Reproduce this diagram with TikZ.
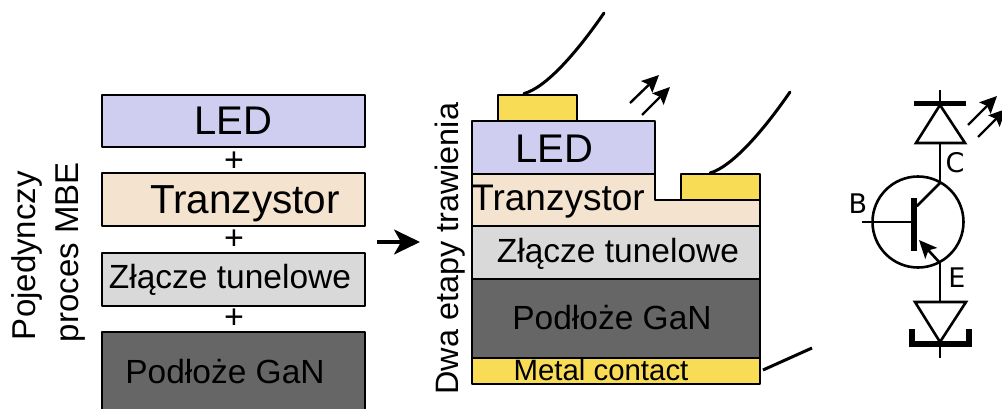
\documentclass[tikz,border=0pt]{standalone}
\usepackage{fontspec}
\setmainfont{Liberation Sans}
\newfontfamily\circfont{DejaVu Sans}
\usetikzlibrary{arrows.meta}
\definecolor{ledc}{HTML}{CFCDF0}
\definecolor{tranc}{HTML}{F3E3CF}
\definecolor{tunc}{HTML}{D9D9D9}
\definecolor{ganc}{HTML}{666666}
\definecolor{goldc}{HTML}{F9DC56}
\tikzset{
  layer/.style={draw=black,line width=2.9pt,line join=round,inner sep=0pt,outer sep=0pt,anchor=north west},
  txt/.style={inner sep=0pt,outer sep=0pt,anchor=base,text=black},
  vtxt/.style={inner sep=0pt,outer sep=0pt,anchor=base west,rotate=90,text=black,font=\fontsize{33}{35}\selectfont},
  circ/.style={inner sep=0pt,outer sep=0pt,anchor=base,text=black,font=\circfont\fontsize{27}{29}\selectfont},
  wire/.style={draw=black,line width=3pt,line cap=round},
  thin wire/.style={draw=black,line width=2.6pt},
  light/.style={draw=black,line width=2.4pt,-{Stealth[length=17pt,width=16pt,inset=3pt]}},
  plate/.style={draw=black,line width=5.5pt},
  f40/.style={font=\fontsize{40}{42}\selectfont},
  f34/.style={font=\fontsize{33.5}{35}\selectfont},
  plus/.style={inner sep=0pt,font=\fontsize{34}{36}\selectfont},
}
\begin{document}
\begin{tikzpicture}[x=1pt,y=-1pt]
\useasboundingbox (0,0) rectangle (1002,408);
\clip (0,0) rectangle (1002,408);
% left stack
\node[layer,fill=ledc,minimum width=263pt,minimum height=52pt] (a1) at (102,95) {};
\node[layer,fill=tranc,minimum width=263pt,minimum height=53pt] (a2) at (102,173) {};
\node[layer,fill=tunc,minimum width=263pt,minimum height=53pt] (a3) at (102,253) {};
\node[layer,fill=ganc,minimum width=263pt,minimum height=90pt] (a4) at (102,332) {};
\node[txt,f40] (ta1) at (233,134) {LED};
\node[txt,font=\fontsize{40.5}{42}\selectfont] (ta2) at (245,213) {Tranzystor};
\node[txt,f34] (ta3) at (230,288) {Złącze tunelowe};
\node[txt,f34] (ta4) at (225,383) {Podłoże GaN};
\node[plus] (p1) at (234,162) {+};
\node[plus] (p2) at (234,240) {+};
\node[plus] (p3) at (234,319) {+};
\node[vtxt] (v1) at (35,340) {Pojedynczy};
\node[vtxt] (v2) at (78,342) {proces MBE};
\node[vtxt,font=\fontsize{32.4}{35}\selectfont] (v3) at (458,394.5) {Dwa etapy trawienia};
% big arrow
\coordinate (ar1) at (377,242);
\coordinate (ar2) at (420,242);
\draw[draw=black,line width=3.2pt,-{Stealth[length=26pt,width=25pt,inset=7pt]}] (ar1) -- (ar2);
% right stack
\draw[layer,fill=tranc] (472,174) -- (655,174) -- (655,200) -- (760,200) -- (760,226) -- (472,226) -- cycle;
\node[layer,fill=goldc,minimum width=79pt,minimum height=26pt] (g1) at (498,95) {};
\node[layer,fill=ledc,minimum width=183pt,minimum height=53pt] (b1) at (472,121) {};
\node[layer,fill=goldc,minimum width=79pt,minimum height=26pt] (g2) at (681,174) {};
\node[layer,fill=tunc,minimum width=288pt,minimum height=53pt] (b3) at (472,226) {};
\node[layer,fill=ganc,minimum width=288pt,minimum height=79pt] (b4) at (472,279) {};
\node[layer,fill=goldc,minimum width=288pt,minimum height=26pt] (b5) at (472,358) {};
\node[txt,f40] (tb1) at (554,162) {LED};
\node[txt,font=\fontsize{37}{39}\selectfont] (tb2) at (558,210) {Tranzystor};
\node[txt,f34] (tb3) at (618,262) {Złącze tunelowe};
\node[txt,f34] (tb4) at (612,329) {Podłoże GaN};
\node[txt,font=\fontsize{29.4}{31}\selectfont] (tb5) at (601,380) {Metal contact};
% wires
\coordinate (w1) at (604,13);
\coordinate (w1s) at (524,93.5);
\coordinate (w2) at (790,92);
\coordinate (w2s) at (710,173);
\coordinate (w3) at (812,348);
\coordinate (w3s) at (763,370);
\draw[wire] (w1s) .. controls (545,88) and (575,55) .. (w1);
\draw[wire] (w2s) .. controls (731,167) and (761,134) .. (w2);
\draw[wire,line cap=butt] (w3s) -- (w3);
% light arrows
\coordinate (l1a) at (630,103); \coordinate (l1b) at (659,75);
\coordinate (l2a) at (642,115); \coordinate (l2b) at (670,87);
\draw[light] (l1a) -- (l1b);
\draw[light] (l2a) -- (l2b);
% circuit
\coordinate (cc) at (918,222);
\node[draw=black,line width=2.6pt,circle,minimum size=91pt,inner sep=0pt,outer sep=0pt] (q) at (cc) {};
\coordinate (qb) at (914,222);
\coordinate (bs) at (862,222);
\coordinate (qc) at (917,206);
\coordinate (qk) at (940,183);
\coordinate (qe) at (940,263);
\coordinate (qt) at (919,240);
\coordinate (bt) at (914,198);
\coordinate (bb) at (914,251);
\draw[thin wire] (bs) -- (qb);
\draw[line width=6pt,draw=black] (bt) -- (bb);
\draw[thin wire,line cap=round] (qc) -- (qk);
\draw[draw=black,line width=2.6pt,-{Stealth[length=18pt,width=16pt,inset=4pt]}] (qe) -- (qt);
% upper diode
\coordinate (d1a) at (940,105);
\coordinate (d1l) at (916,143);
\coordinate (d1r) at (965,143);
\coordinate (d1m) at (940,143);
\coordinate (d1t) at (940,90);
\coordinate (pl) at (914,103.5);
\coordinate (pr) at (966,103.5);
\draw[thin wire,line join=miter] (d1a) -- (d1l) -- (d1r) -- cycle;
\draw[thin wire] (d1t) -- (d1a);
\draw[plate] (pl) -- (pr);
\draw[thin wire] (d1m) -- (qk);
% lower diode
\coordinate (d2a) at (940,342);
\coordinate (d2l) at (915,302);
\coordinate (d2r) at (966,302);
\coordinate (d2m) at (940,302);
\coordinate (d2b) at (940,358);
\coordinate (u1) at (912,329);
\coordinate (u2) at (912,344);
\coordinate (u3) at (969,344);
\coordinate (u4) at (969,329);
\draw[thin wire,line join=miter] (d2a) -- (d2l) -- (d2r) -- cycle;
\draw[thin wire] (qe) -- (d2m);
\draw[thin wire] (d2a) -- (d2b);
\draw[plate,line join=miter] (u1) -- (u2) -- (u3) -- (u4);
% light arrows of circuit
\coordinate (m1a) at (968,125); \coordinate (m1b) at (997,96);
\coordinate (m2a) at (978,137); \coordinate (m2b) at (1006,109);
\draw[light] (m1a) -- (m1b);
\draw[light] (m2a) -- (m2b);
\node[circ] (lc) at (955,172) {C};
\node[circ] (lb) at (858,213) {B};
\node[circ] (le) at (957,287) {E};
\end{tikzpicture}
\end{document}
